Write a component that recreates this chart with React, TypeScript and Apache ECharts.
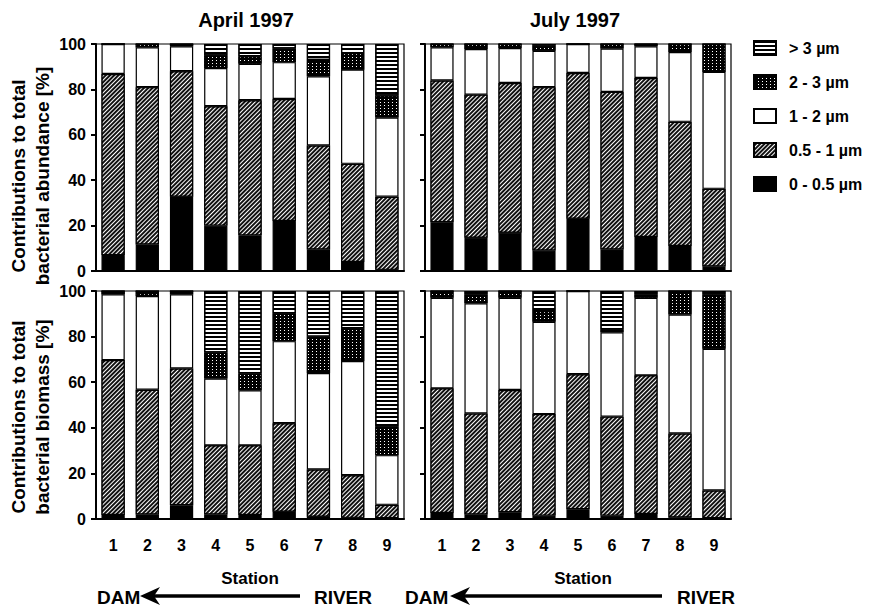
import React, { useEffect, useRef } from 'react';
import * as echarts from 'echarts';

const stations = ['1', '2', '3', '4', '5', '6', '7', '8', '9'];
const sizeClasses = ['0 - 0.5 µm', '0.5 - 1 µm', '1 - 2 µm', '2 - 3 µm', '> 3 µm'];
const legendOrder = ['> 3 µm', '2 - 3 µm', '1 - 2 µm', '0.5 - 1 µm', '0 - 0.5 µm'];
const panelTitles = ['April 1997', 'July 1997'];
const yTitles = [
  ['Contributions to total', 'bacterial abundance [%]'],
  ['Contributions to total', 'bacterial biomass [%]'],
];

// April 1997 – abundance (%), per size class
const aprAbund0 = [7, 11.7, 32.7, 20, 15.7, 22, 9.5, 4, 0.5];
const aprAbund1 = [79.8, 69.3, 55.3, 52.6, 59.5, 53.8, 45.8, 43.2, 32.2];
const aprAbund2 = [13.2, 17.5, 11, 16.8, 16.1, 16.2, 30.5, 41.5, 34.9];
const aprAbund3 = [0, 1.5, 1, 5.6, 3.3, 6, 7.2, 7.3, 9.7];
const aprAbund4 = [0, 0, 0, 5, 5.4, 2, 7, 4, 22.7];

// July 1997 – abundance (%)
const julAbund0 = [21.5, 14.7, 16.9, 9, 23, 9.5, 15, 11, 2];
const julAbund1 = [62.4, 63, 65.9, 72, 64.2, 69.4, 70, 54.7, 34.2];
const julAbund2 = [14.6, 20.1, 15.4, 16, 12.8, 19.1, 14, 30.8, 51.5];
const julAbund3 = [1.5, 2.2, 1.8, 2.3, 0, 2, 1, 3.5, 12.3];
const julAbund4 = [0, 0, 0, 0.7, 0, 0, 0, 0, 0];

// April 1997 – biomass (%)
const aprBio0 = [1.8, 2, 6, 2, 1.8, 3.2, 1, 0.5, 0.3];
const aprBio1 = [67.9, 54.7, 60, 30.3, 30.5, 38.8, 20.7, 18.7, 5.9];
const aprBio2 = [28.8, 41.1, 32.5, 29.3, 24.1, 36, 42.3, 50.1, 21.8];
const aprBio3 = [1.5, 2.2, 1.5, 11.4, 7.4, 12, 16, 14.4, 12.6];
const aprBio4 = [0, 0, 0, 27, 36.2, 10, 20, 16.3, 59.4];

// July 1997 – biomass (%)
const julBio0 = [2.6, 2, 3, 1.5, 4.3, 1.5, 2.2, 0.7, 0.3];
const julBio1 = [54.7, 44.3, 53.6, 44.5, 59.2, 43.4, 60.8, 36.8, 12.2];
const julBio2 = [39.7, 48.3, 40.4, 40.5, 36.5, 37, 34, 52.2, 62.2];
const julBio3 = [3, 3.9, 3, 4.7, 0, 1.1, 1.5, 10.3, 23.8];
const julBio4 = [0, 1.5, 0, 8.8, 0, 17, 1.5, 0, 1.5];

const panels = [
  [aprAbund0, aprAbund1, aprAbund2, aprAbund3, aprAbund4],
  [julAbund0, julAbund1, julAbund2, julAbund3, julAbund4],
  [aprBio0, aprBio1, aprBio2, aprBio3, aprBio4],
  [julBio0, julBio1, julBio2, julBio3, julBio4],
];

const FONT = 'Liberation Sans, Arial, sans-serif';

const classStyles: any[] = [
  { color: '#000' },
  {
    color: '#111',
    decal: { symbol: 'rect', symbolSize: 1, dashArrayX: [1, 0], dashArrayY: [1, 2], rotation: -Math.PI / 4, color: '#fff' },
  },
  { color: '#fff' },
  {
    color: '#000',
    decal: { symbol: 'rect', symbolSize: 1, dashArrayX: [1, 3], dashArrayY: [1, 2], color: '#fff' },
  },
  {
    color: '#fff',
    decal: { symbol: 'rect', symbolSize: 1, dashArrayX: [1, 0], dashArrayY: [2, 2], color: '#000' },
  },
];

const grids = [
  { left: 96, top: 44, width: 308, height: 227 },
  { left: 425, top: 44, width: 306, height: 227 },
  { left: 96, top: 291, width: 308, height: 228 },
  { left: 425, top: 291, width: 306, height: 228 },
];

export default function App() {
  const ref = useRef<HTMLDivElement>(null);
  useEffect(() => {
    if (!ref.current) return;
    const chart = echarts.init(ref.current, undefined, { renderer: 'svg' });

    const xAxes = grids.map((_, i) => ({
      type: 'category',
      gridIndex: i,
      data: stations,
      axisLine: { lineStyle: { color: '#000', width: 2 } },
      axisTick: { alignWithLabel: true, length: 5, lineStyle: { color: '#000', width: 1.5 } },
      axisLabel: {
        show: i >= 2,
        margin: 18,
        fontSize: 16,
        fontWeight: 'bold',
        color: '#000',
        fontFamily: FONT,
      },
    }));
    const yAxes = grids.map((_, i) => ({
      type: 'value',
      gridIndex: i,
      min: 0,
      max: 100,
      interval: 20,
      splitLine: { show: false },
      axisLine: { show: true, lineStyle: { color: '#000', width: 2 } },
      axisTick: { show: true, length: 5, lineStyle: { color: '#000', width: 2 } },
      axisLabel: {
        show: i % 2 === 0,
        margin: 10,
        fontSize: 16,
        fontWeight: 'bold',
        color: '#000',
        fontFamily: FONT,
      },
    }));

    const series: any[] = [];
    panels.forEach((panel, p) => {
      panel.forEach((vals, c) => {
        series.push({
          type: 'bar',
          name: sizeClasses[c],
          xAxisIndex: p,
          yAxisIndex: p,
          stack: 'p' + p,
          barWidth: '68%',
          data: vals,
          itemStyle: { ...classStyles[c], borderColor: '#000', borderWidth: 1.2 },
          emphasis: { disabled: true },
        });
      });
    });

    const graphic: any[] = [];
    const titleX = [246, 575];
    panelTitles.forEach((t, i) => {
      graphic.push({
        type: 'text',
        x: titleX[i],
        y: 20,
        style: { text: t, fontSize: 20, fontWeight: 'bold', fontFamily: FONT, fill: '#000', align: 'center', verticalAlign: 'middle' },
      });
    });
    const yTitleCenters = [176, 417];
    yTitles.forEach((lines, i) => {
      lines.forEach((line, j) => {
        graphic.push({
          type: 'text',
          x: j === 0 ? 18 : 42,
          y: yTitleCenters[i],
          rotation: Math.PI / 2,
          style: { text: line, fontSize: 19, fontWeight: 'bold', fontFamily: FONT, fill: '#000', align: 'center', verticalAlign: 'middle' },
        });
      });
    });
    const bottom = [
      { station: 250, dam: 97, arrowL: 140, arrowR: 300, river: 372 },
      { station: 583, dam: 405, arrowL: 450, arrowR: 662, river: 735 },
    ];
    bottom.forEach((b) => {
      graphic.push({
        type: 'text', x: b.station, y: 578,
        style: { text: 'Station', fontSize: 17, fontWeight: 'bold', fontFamily: FONT, fill: '#000', align: 'center', verticalAlign: 'middle' },
      });
      graphic.push({
        type: 'text', x: b.dam, y: 597,
        style: { text: 'DAM', fontSize: 19, fontWeight: 'bold', fontFamily: FONT, fill: '#000', align: 'left', verticalAlign: 'middle' },
      });
      graphic.push({
        type: 'text', x: b.river, y: 597,
        style: { text: 'RIVER', fontSize: 19, fontWeight: 'bold', fontFamily: FONT, fill: '#000', align: 'right', verticalAlign: 'middle' },
      });
      graphic.push({
        type: 'line',
        shape: { x1: b.arrowL + 12, y1: 596, x2: b.arrowR, y2: 596 },
        style: { stroke: '#000', lineWidth: 3.5 },
      });
      graphic.push({
        type: 'polygon',
        shape: { points: [[b.arrowL, 596], [b.arrowL + 20, 587], [b.arrowL + 14, 596], [b.arrowL + 20, 605]] },
        style: { fill: '#000' },
      });
    });

    chart.setOption({
      animation: false,
      backgroundColor: '#fff',
      grid: grids.map((g) => ({ ...g, show: true, borderColor: '#000', borderWidth: 1.2, backgroundColor: 'transparent' })),
      xAxis: xAxes,
      yAxis: yAxes,
      legend: {
        orient: 'vertical',
        left: 748,
        top: 35,
        icon: 'rect',
        itemWidth: 22,
        itemHeight: 14,
        itemGap: 18,
        selectedMode: false,
        data: legendOrder,
        textStyle: { fontSize: 16, fontWeight: 'bold', color: '#000', fontFamily: FONT, padding: [0, 0, 0, 8] },
      },
      series,
      graphic,
    });
    return () => chart.dispose();
  }, []);
  return (
    <div
      ref={ref}
      style={{ position: 'fixed', left: 0, top: 0, width: 887, height: 607, background: '#fff' }}
    />
  );
}
